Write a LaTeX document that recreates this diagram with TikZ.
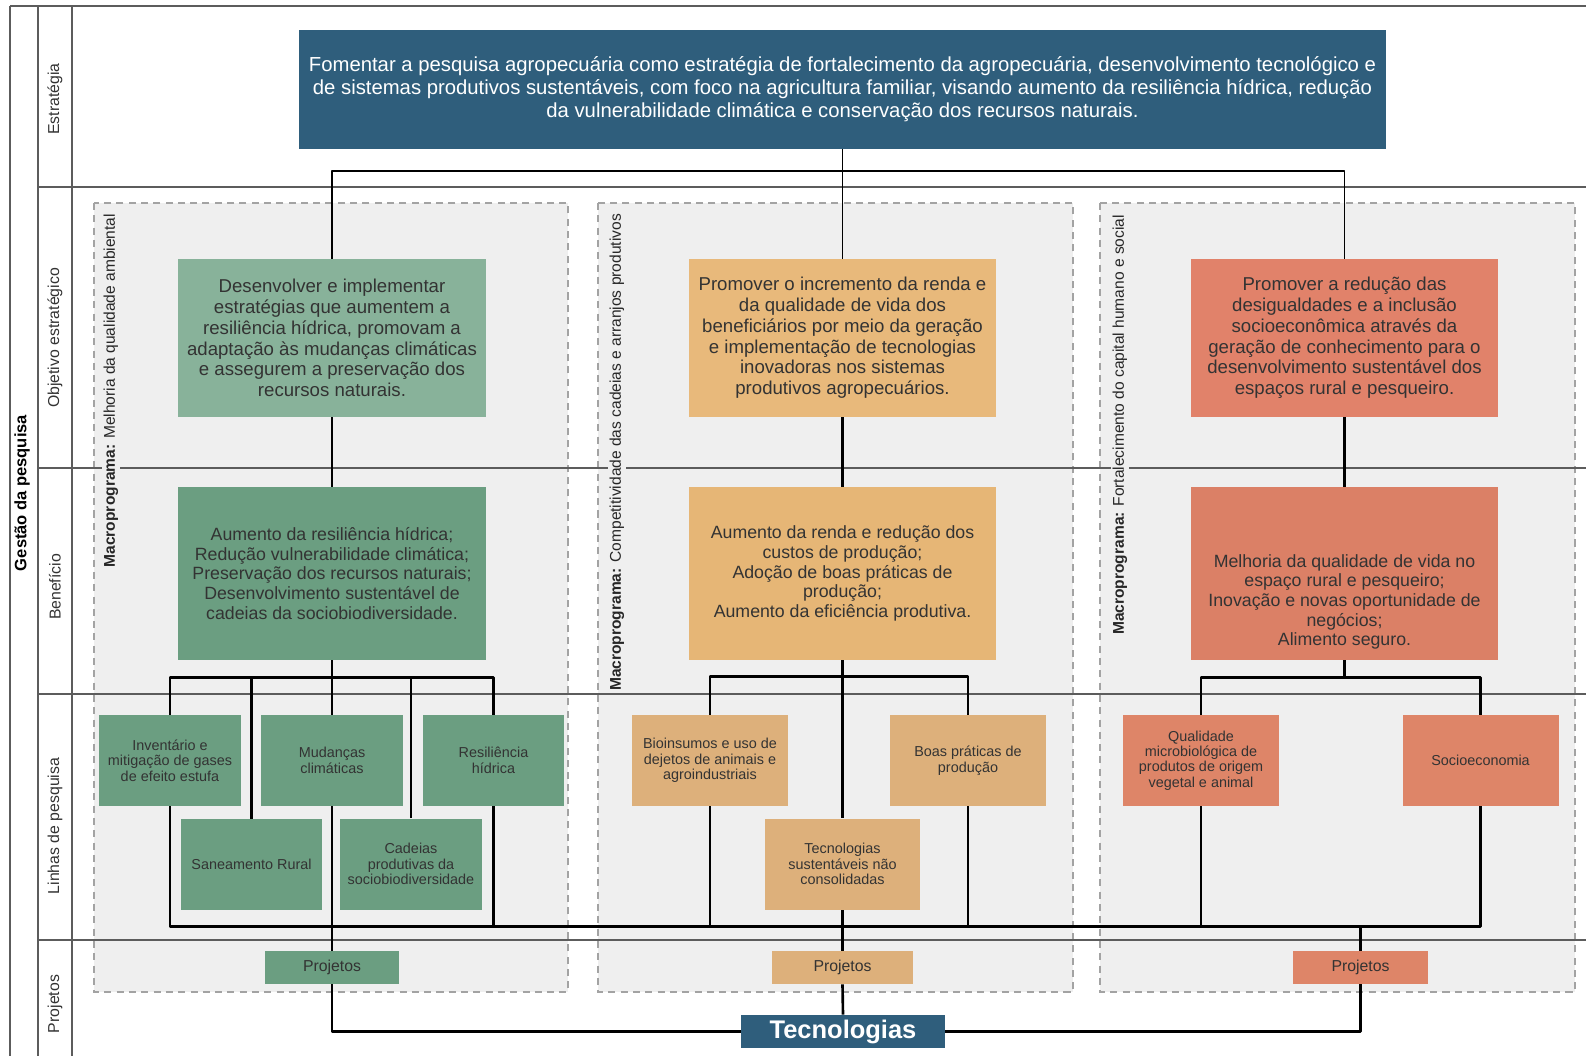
\documentclass[tikz,border=0pt]{standalone}
\usepackage{fontspec}
\setmainfont{Liberation Sans}
\usetikzlibrary{calc}
\pgfdeclarelayer{bg}
\pgfsetlayers{bg,main}

\definecolor{navy}{HTML}{2F5E7C}
\definecolor{gObj}{HTML}{88B29A}
\definecolor{gBen}{HTML}{6B9E81}
\definecolor{oObj}{HTML}{E8B97B}
\definecolor{oBen}{HTML}{E6B676}
\definecolor{oLin}{HTML}{DDB07B}
\definecolor{rObj}{HTML}{E1826A}
\definecolor{rBen}{HTML}{DB8066}
\definecolor{rLin}{HTML}{DE8568}
\definecolor{panelfill}{HTML}{EFEFEF}
\definecolor{panelrule}{HTML}{A3A3A3}
\definecolor{lanerule}{HTML}{5C5C5C}
\definecolor{boxtext}{HTML}{333333}

\tikzset{
  box/.style={inner sep=0pt, align=center, text=boxtext},
  bigbox/.style={box, minimum width=6.16cm},
  objbox/.style={bigbox, minimum height=3.16cm, font=\fontsize{10.6}{11.8}\selectfont},
  benbox/.style={bigbox, minimum height=3.46cm, font=\fontsize{10.1}{11.2}\selectfont},
  linebox/.style={box, minimum height=1.82cm, font=\fontsize{8.2}{8.8}\selectfont},
  projbox/.style={box, minimum height=0.66cm, font=\fontsize{9}{10}\selectfont},
  conn/.style={draw=black, line width=1.5pt, line join=round},
  topconn/.style={draw=black, line width=1.1pt, line join=round},
  lane/.style={draw=lanerule, line width=0.9pt},
  panel/.style={fill=panelfill, draw=panelrule, dash pattern=on 4pt off 3pt, line width=0.8pt},
  lanelabel/.style={rotate=90, inner sep=1pt, text=black!80, font=\fontsize{9}{10}\selectfont},
  macrolabel/.style={rotate=90, anchor=east, inner sep=1pt, fill=panelfill, text=black!85, font=\fontsize{8.85}{10}\selectfont},
}

\begin{document}
\begin{tikzpicture}[x=0.02cm, y=-0.02cm]
\useasboundingbox (0,0) rectangle (1586,1056);

% ---------- macroprogram panels ----------
\begin{pgfonlayer}{bg}
\path[panel] (94,203) rectangle (568,992);
\path[panel] (598,203) rectangle (1073,992);
\path[panel] (1100,203) rectangle (1575,992);

% ---------- swimlane frame ----------
\draw[lane] (10,6) -- (1586,6);
\draw[lane] (10,6) -- (10,1056);
\draw[lane] (38,6) -- (38,1056);
\draw[lane] (72,6) -- (72,1056);
\draw[lane] (38,187) -- (1586,187);
\draw[lane] (38,468) -- (1586,468);
\draw[lane] (38,694) -- (1586,694);
\draw[lane] (38,940) -- (1586,940);
\end{pgfonlayer}

% ---------- lane titles ----------
\node[rotate=90, font=\bfseries\fontsize{9.4}{10}\selectfont] (gestao) at (22,493) {Gestão da pesquisa};
\node[lanelabel] (lEst) at (55,99) {Estratégia};
\node[lanelabel] (lObj) at (55,338) {Objetivo estratégico};
\node[lanelabel] (lBen) at (55,587) {Benefício};
\node[lanelabel] (lLin) at (55,826) {Linhas de pesquisa};
\node[lanelabel] (lPro) at (55,1004) {Projetos};

% ---------- macroprogram titles ----------
\node[macrolabel] (mG) at (111,212) {\textbf{Macroprograma:} Melhoria da qualidade ambiental};
\node[macrolabel] (mM) at (617,212) {\textbf{Macroprograma:} Competitividade das cadeias e arranjos produtivos};
\node[macrolabel] (mR) at (1120,213) {\textbf{Macroprograma:} Fortalecimento do capital humano e social};

% ---------- strategy ----------
\node[box, fill=navy, text=white, minimum width=21.74cm, minimum height=2.38cm,
      font=\fontsize{11.55}{13}\selectfont] (top) at (842.5,89.5)
  {Fomentar a pesquisa agropecuária como estratégia de fortalecimento da agropecuária, desenvolvimento tecnológico e\\
   de sistemas produtivos sustentáveis, com foco na agricultura familiar, visando aumento da resiliência hídrica, redução\\
   da vulnerabilidade climática e conservação dos recursos naturais.};

% ---------- strategic objectives ----------
\node[objbox, fill=gObj] (objG) at (332,338)
  {Desenvolver e implementar\\ estratégias que aumentem a\\ resiliência hídrica, promovam a\\ adaptação às mudanças climáticas\\ e assegurem a preservação dos\\ recursos naturais.};
\node[objbox, fill=oObj] (objM) at (842.5,338)
  {Promover o incremento da renda e\\ da qualidade de vida dos\\ beneficiários por meio da geração\\ e implementação de tecnologias\\ inovadoras nos sistemas\\ produtivos agropecuários.};
\node[objbox, fill=rObj] (objR) at (1344.5,338)
  {Promover a redução das\\ desigualdades e a inclusão\\ socioeconômica através da\\ geração de conhecimento para o\\ desenvolvimento sustentável dos\\ espaços rural e pesqueiro.};

% ---------- benefits ----------
\node[benbox, fill=gBen] (benG) at (332,573.5)
  {Aumento da resiliência hídrica;\\ Redução vulnerabilidade climática;\\ Preservação dos recursos naturais;\\ Desenvolvimento sustentável de\\ cadeias da sociobiodiversidade.};
\node[benbox, fill=oBen] (benM) at (842.5,573.5)
  {Aumento da renda e redução dos\\ custos de produção;\\ Adoção de boas práticas de\\ produção;\\ Aumento da eficiência produtiva.};
\node[benbox, fill=rBen] (benR) at (1344.5,573.5) {};
\node[box, font=\fontsize{10.1}{11.2}\selectfont] (benRtext) at (1344.5,602)
  {Melhoria da qualidade de vida no\\ espaço rural e pesqueiro;\\ Inovação e novas oportunidade de\\ negócios;\\ Alimento seguro.};

% ---------- research lines ----------
\node[linebox, fill=gBen, minimum width=2.84cm] (inv) at (170,760.5) {Inventário e\\ mitigação de gases\\ de efeito estufa};
\node[linebox, fill=gBen, minimum width=2.84cm] (mud) at (332,760.5) {Mudanças\\ climáticas};
\node[linebox, fill=gBen, minimum width=2.84cm] (res) at (493.5,760.5) {Resiliência\\ hídrica};
\node[linebox, fill=gBen, minimum width=2.84cm] (san) at (251.5,864.5) {Saneamento Rural};
\node[linebox, fill=gBen, minimum width=2.84cm] (cad) at (411,864) {Cadeias\\ produtivas da\\ sociobiodiversidade};

\node[linebox, fill=oLin, minimum width=3.12cm] (bio) at (710,760.5) {Bioinsumos e uso de\\ dejetos de animais e\\ agroindustriais};
\node[linebox, fill=oLin, minimum width=3.12cm] (boas) at (968,760.5) {Boas práticas de\\ produção};
\node[linebox, fill=oLin, minimum width=3.12cm] (tec) at (842.5,864) {Tecnologias\\ sustentáveis não\\ consolidadas};

\node[linebox, fill=rLin, minimum width=3.12cm] (qual) at (1201,760.5) {Qualidade\\ microbiológica de\\ produtos de origem\\ vegetal e animal};
\node[linebox, fill=rLin, minimum width=3.12cm] (soc) at (1480.5,760.5) {Socioeconomia};

% ---------- projects ----------
\node[projbox, fill=gBen, minimum width=2.7cm] (proG) at (332,967.5) {Projetos};
\node[projbox, fill=oLin, minimum width=2.82cm] (proM) at (842.5,967.5) {Projetos};
\node[projbox, fill=rLin, minimum width=2.7cm] (proR) at (1360.5,967.5) {Projetos};

\node[box, fill=navy, text=white, minimum width=4.08cm, minimum height=0.66cm,
      font=\bfseries\fontsize{14.5}{15}\selectfont] (tecno) at (843,1031.5) {Tecnologias};

% ---------- connectors ----------
\begin{pgfonlayer}{bg}
% strategy to objectives
\draw[topconn] (top.south) -- ++(0,22) coordinate (tb);
\draw[topconn] (objG.north) |- (tb) -| (objR.north);
\draw[topconn] (tb) -- (objM.north);

% objectives to benefits
\draw[conn] (objG.south) -- (benG.north);
\draw[conn] (objM.south) -- (benM.north);
\draw[conn] (objR.south) -- (benR.north);

% benefits to research lines
\draw[conn] (benG.south) -- ++(0,17) coordinate (gb);
\draw[conn] (inv.north) |- (gb) -| (res.north);
\draw[conn] (gb) -- (mud.north);
\draw[conn] (san.north) -- (san.north |- gb);
\draw[conn] (cad.north) -- (cad.north |- gb);

\draw[conn] (benM.south) -- (tec.north);
\draw[conn] (benM.south) ++(0,16) coordinate (mb);
\draw[conn] (bio.north) |- (mb) -| (boas.north);

\draw[conn] (benR.south) -- ++(0,17) coordinate (rb);
\draw[conn] (qual.north) |- (rb) -| (soc.north);

% research lines to projects
\draw[conn] (inv.south) -- ++(0,120) coordinate (busL) -| (soc.south);
\draw[conn] (res.south) -- (res.south |- busL);
\draw[conn] (bio.south) -- (bio.south |- busL);
\draw[conn] (boas.south) -- (boas.south |- busL);
\draw[conn] (qual.south) -- (qual.south |- busL);
\draw[conn] (mud.south) -- (proG.north);
\draw[conn] (tec.south) -- (proM.north);
\draw[conn] (proR.north |- busL) -- (proR.north);

% projects to technologies
\draw[conn] (proG.south) |- (proR.south |- tecno.center) -- (proR.south);
\draw[conn] (proM.south) -- (tecno.north);
\end{pgfonlayer}
\end{tikzpicture}
\end{document}
